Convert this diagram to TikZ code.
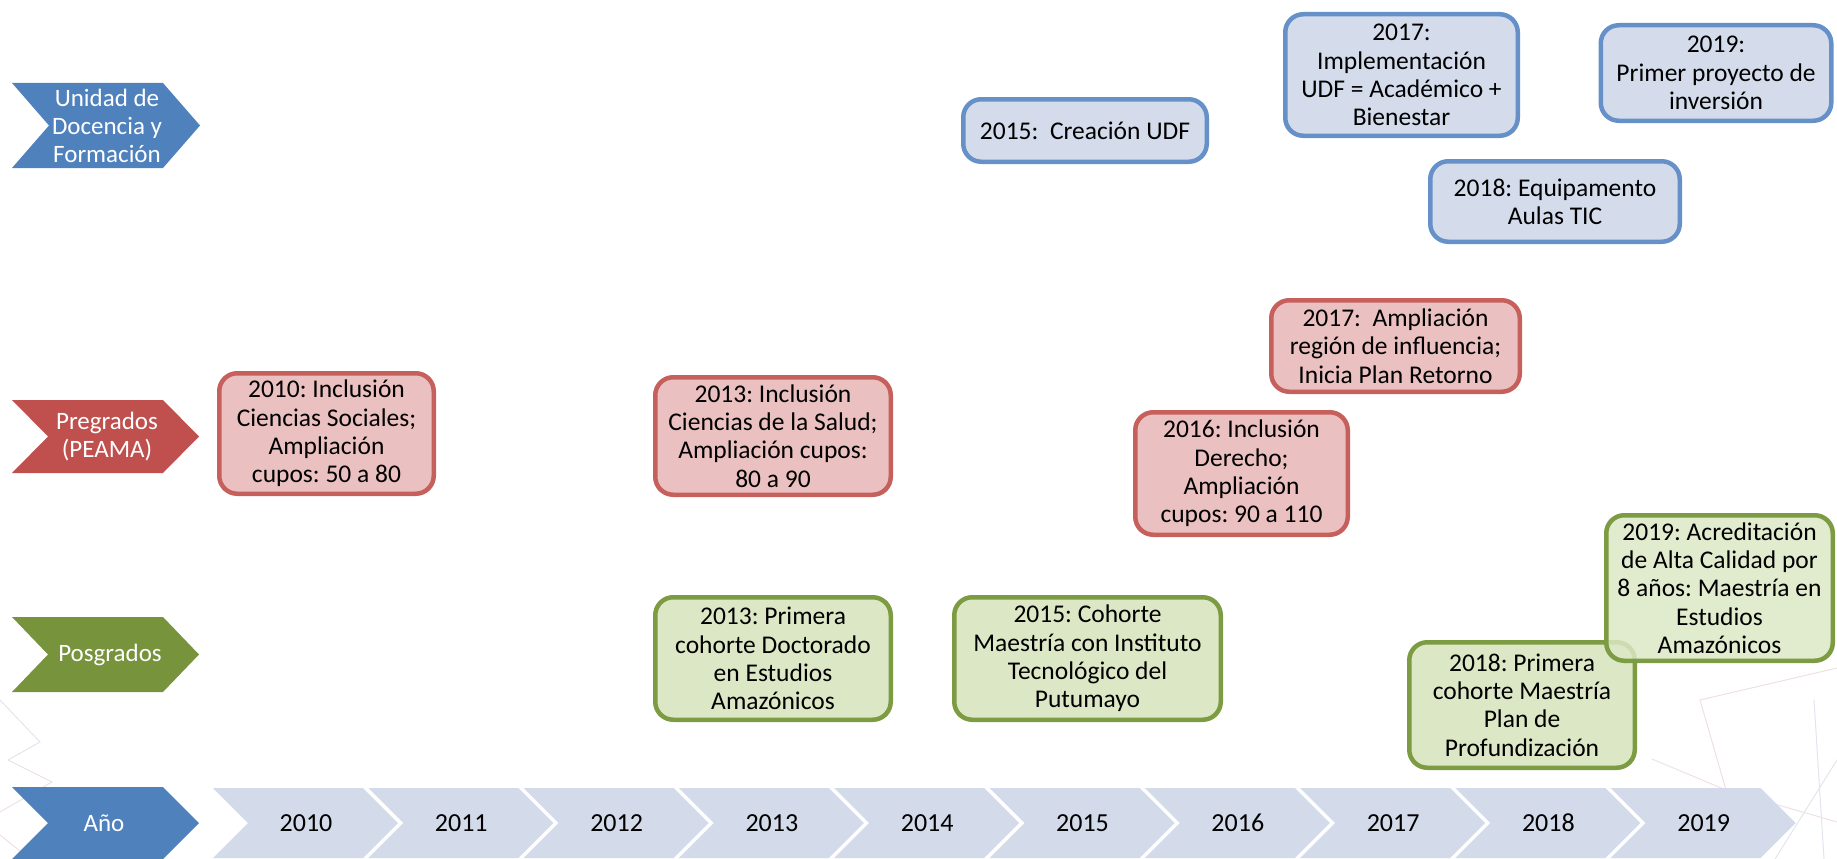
\documentclass[tikz,border=0pt]{standalone}
\usepackage{fontspec}
\setmainfont{Carlito}
\frenchspacing
\definecolor{udfblue}{HTML}{4F81BD}
\definecolor{peared}{HTML}{C0504D}
\definecolor{posgreen}{HTML}{77933C}
\definecolor{yearfill}{HTML}{D3DAEA}
\definecolor{bluefill}{HTML}{D4DCEB}
\definecolor{blueline}{HTML}{6590C8}
\definecolor{redfill}{HTML}{EBC0C0}
\definecolor{redline}{HTML}{C6605D}
\definecolor{greenfill}{HTML}{DCE7C5}
\definecolor{greenline}{HTML}{7D9B43}
\definecolor{decoA}{HTML}{EEE0E3}
\definecolor{decoB}{HTML}{E4E4EE}
\tikzset{
  evbox/.style={rounded corners=18pt, line width=4.5pt, align=center, inner sep=1pt,
    font=\fontsize{25.5}{28.3}\selectfont},
  bluebox/.style={evbox, draw=blueline, fill=bluefill},
  redbox/.style={evbox, draw=redline, fill=redfill},
  greenbox/.style={evbox, draw=greenline, fill=greenfill},
  chevlabel/.style={text=white, align=center, inner sep=0pt,
    font=\fontsize{25}{28}\selectfont},
  yearlabel/.style={inner sep=0pt, font=\fontsize{26}{28}\selectfont},
  decoline/.style={line width=1pt},
}
\newcommand\mychev[6]{%
  \fill[#6] (#1,#2) -- ({#1+#4},#2) -- ({#1+#4+#5},{(#2+#3)/2}) -- ({#1+#4},#3)
    -- (#1,#3) -- ({#1+#5},{(#2+#3)/2}) -- cycle;}
\begin{document}
\begin{tikzpicture}[x=1pt,y=-1pt]
\useasboundingbox (0,0) rectangle (1837,859);
% faint decorative background lines
\draw[decoline,decoA] (8,760) -- (52,782) -- (0,812);
\draw[decoline,decoB] (0,700) -- (40,742) -- (8,760);
\draw[decoline,decoA] (0,835) -- (30,859);
\draw[decoline,decoA] (1652,759) -- (1726,790) -- (1837,822);
\draw[decoline,decoB] (1814,700) -- (1824,859);
\draw[decoline,decoB] (1837,760) -- (1775,859);
\draw[decoline,decoA] (1726,790) -- (1700,700) -- (1837,668);
% category chevrons
\mychev{12}{83}{168}{151}{37}{udfblue}
\node[chevlabel] (udf) at (107,125.5) {Unidad de\\Docencia y\\Formación};
\mychev{12}{400}{473}{151}{36}{peared}
\node[chevlabel] (pre) at (107,436.5) {Pregrados\\(PEAMA)};
\mychev{12}{617}{692}{151}{36}{posgreen}
\node[chevlabel] (pos) at (110,654.5) {Posgrados};
\mychev{12}{787}{859}{151}{36}{udfblue}
\node[chevlabel] (anio) at (104,823) {Año};
% year chevrons
\foreach \i/\yr in {0/2010,1/2011,2/2012,3/2013,4/2014,5/2015,6/2016,7/2017,8/2018,9/2019}{
  \pgfmathsetmacro\xo{213+155.3*\i}
  \mychev{\xo}{788}{858}{150}{35}{yearfill}
  \node[yearlabel] (y\yr) at ({\xo+93},823) {\yr};
}
% UDF boxes
\node[bluebox, minimum width=243.5pt, minimum height=62.5pt] (b2015) at (1085,130.5) {2015:\ \ Creación UDF};
\node[bluebox, minimum width=232.5pt, minimum height=121.5pt] (b2017) at (1401.5,75) {2017:\\Implementación\\UDF = Académico +\\Bienestar};
\node[bluebox, minimum width=230.5pt, minimum height=95.5pt] (b2019) at (1716,73) {2019:\\Primer proyecto de\\inversión};
\node[bluebox, minimum width=249.5pt, minimum height=80.5pt] (b2018) at (1555,201.5) {2018: Equipamento\\Aulas TIC};
% Pregrados boxes
\node[redbox, minimum width=214.5pt, minimum height=120.5pt] (r2010) at (326.5,433.5) {2010: Inclusión\\Ciencias Sociales;\\Ampliación\\cupos: 50 a 80};
\node[redbox, minimum width=235.5pt, minimum height=117.5pt] (r2013) at (773,436) {2013: Inclusión\\Ciencias de la Salud;\\Ampliación cupos:\\80 a 90};
\node[redbox, minimum width=248.5pt, minimum height=91.5pt] (r2017) at (1395.5,346) {2017:\ \ Ampliación\\región de influencia;\\Inicia Plan Retorno};
\node[redbox, minimum width=212.5pt, minimum height=122.5pt] (r2016) at (1241.5,473.5) {2016: Inclusión\\Derecho;\\Ampliación\\cupos: 90 a 110};
% Posgrados boxes
\node[greenbox, minimum width=235.5pt, minimum height=122.5pt] (g2013) at (773,658.5) {2013: Primera\\cohorte Doctorado\\en Estudios\\Amazónicos};
\node[greenbox, minimum width=266.5pt, minimum height=122.5pt] (g2015) at (1087.5,658.5) {2015: Cohorte\\Maestría con Instituto\\Tecnológico del\\Putumayo};
\node[greenbox, minimum width=225.5pt, minimum height=125.5pt] (g2018) at (1522,705) {2018: Primera\\cohorte Maestría\\Plan de\\Profundización};
\node[greenbox, fill opacity=0.85, text opacity=1, minimum width=226.5pt, minimum height=145.5pt] (g2019) at (1719.5,588) {2019: Acreditación\\de Alta Calidad por\\8 años: Maestría en\\Estudios\\Amazónicos};
\end{tikzpicture}
\end{document}
